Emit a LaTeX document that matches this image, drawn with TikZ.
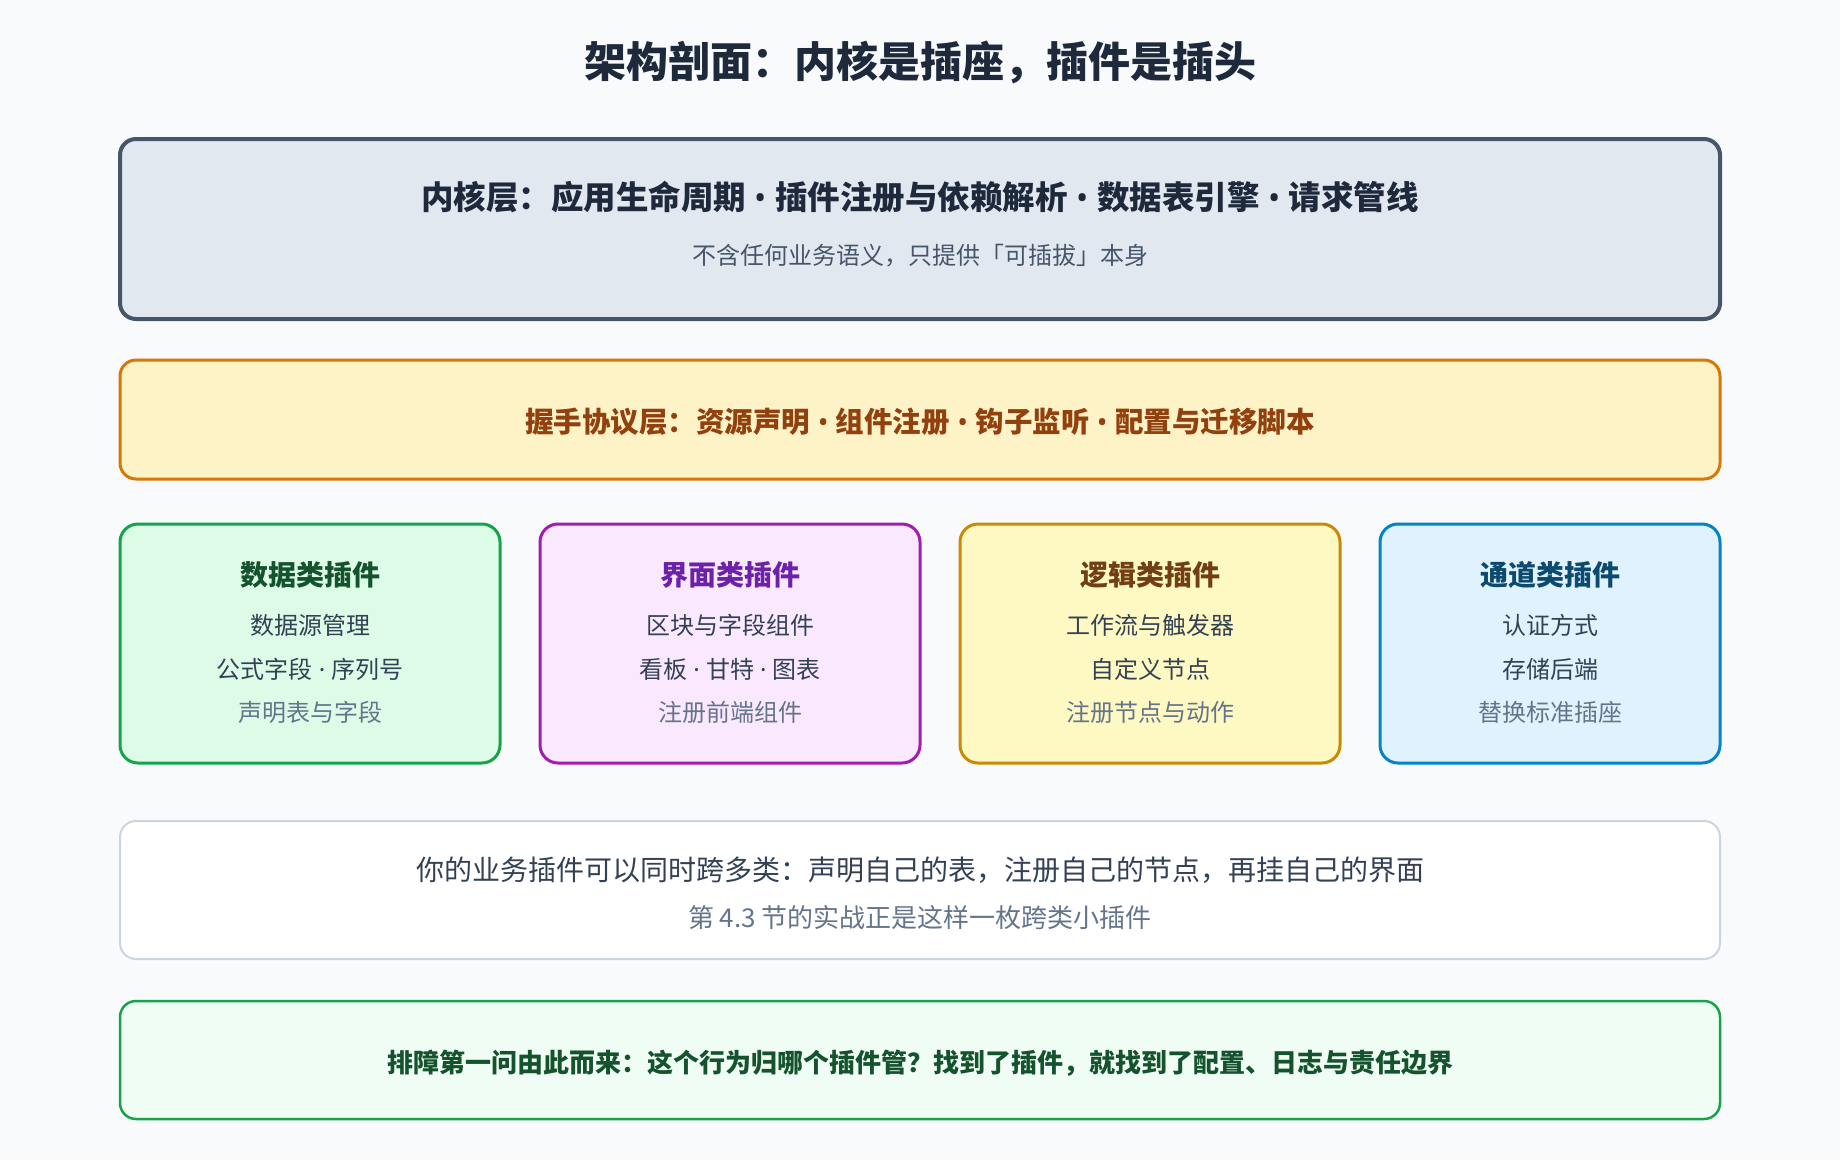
\documentclass[tikz,border=0pt]{standalone}
\usepackage{fontspec}
\setmainfont{Noto Sans CJK SC}
\newfontfamily\latinf{Noto Sans}
\usetikzlibrary{positioning}

% narrow separators as set by a Latin font
\newcommand\bul{{\latinf{} • }}
\newcommand\mdt{{\latinf{} · }}

\definecolor{bgc}{HTML}{F8FAFC}
\definecolor{ink}{HTML}{1E293B}
\definecolor{body}{HTML}{334155}
\definecolor{hint}{HTML}{64748B}
\definecolor{coreF}{HTML}{E2E8F0}
\definecolor{coreD}{HTML}{475569}
\definecolor{protoF}{HTML}{FEF3C7}
\definecolor{protoD}{HTML}{D97706}
\definecolor{protoT}{HTML}{92400E}
\definecolor{dataF}{HTML}{DCFCE7}
\definecolor{dataD}{HTML}{16A34A}
\definecolor{dataT}{HTML}{14532D}
\definecolor{uiF}{HTML}{FAE8FF}
\definecolor{uiD}{HTML}{A21CAF}
\definecolor{uiT}{HTML}{6B21A8}
\definecolor{logicF}{HTML}{FEF9C3}
\definecolor{logicD}{HTML}{CA8A04}
\definecolor{logicT}{HTML}{713F12}
\definecolor{chanF}{HTML}{E0F2FE}
\definecolor{chanD}{HTML}{0284C7}
\definecolor{chanT}{HTML}{0C4A6E}
\definecolor{noteD}{HTML}{CBD5E1}
\definecolor{tipF}{HTML}{F0FDF4}

\begin{document}
\begin{tikzpicture}[x=1pt, y=-1pt,
	layer/.style={draw, rounded corners=16pt, minimum width=1600pt, inner sep=0pt},
	plug/.style={draw, line width=3pt, rounded corners=18pt, minimum height=239pt, inner sep=0pt},
	head/.style={font=\bfseries\fontsize{32.5}{36}\selectfont},
	sub/.style={font=\fontsize{24}{28}\selectfont, text=coreD},
	ptitle/.style={font=\bfseries\fontsize{28}{32}\selectfont},
	pline/.style={font=\fontsize{24}{28}\selectfont, text=body},
	phint/.style={font=\fontsize{24}{28}\selectfont, text=hint}]
	\useasboundingbox[fill=bgc] (0,0) rectangle (1840,1160);
	\node[font=\bfseries\fontsize{42}{48}\selectfont, text=ink] (title) at (920,62) {架构剖面：内核是插座，插件是插头};

	% kernel and protocol layers
	\node[layer, line width=4pt, fill=coreF, draw=coreD, minimum height=180pt] (core) at (920,229) {};
	\node[head, text=ink] (coreT) at (920,197) {内核层：应用生命周期\bul 插件注册与依赖解析\bul 数据表引擎\bul 请求管线};
	\node[sub] (coreS) at (920,256) {不含任何业务语义，只提供「可插拔」本身};
	\node[layer, line width=3pt, fill=protoF, draw=protoD, minimum height=119pt] (proto) at (920,419.5) {};
	\node[head, font=\bfseries\fontsize{28.5}{32}\selectfont, text=protoT] (protoT) at (920,422) {握手协议层：资源声明\bul 组件注册\bul 钩子监听\bul 配置与迁移脚本};

	% four plugin kinds
	\node[plug, fill=dataF, draw=dataD, minimum width=380pt] (data) at (310,643.5) {};
	\node[ptitle, text=dataT] (dataT) at (310,575) {数据类插件};
	\node[pline] (data1) at (310,625) {数据源管理};
	\node[pline] (data2) at (310,669) {公式字段\mdt 序列号};
	\node[phint] (data3) at (310,712) {声明表与字段};

	\node[plug, fill=uiF, draw=uiD, minimum width=380pt] (ui) at (730,643.5) {};
	\node[ptitle, text=uiT] (uiT) at (730,575) {界面类插件};
	\node[pline] (ui1) at (730,625) {区块与字段组件};
	\node[pline] (ui2) at (730,669) {看板\mdt 甘特\mdt 图表};
	\node[phint] (ui3) at (730,712) {注册前端组件};

	\node[plug, fill=logicF, draw=logicD, minimum width=380pt] (logic) at (1150,643.5) {};
	\node[ptitle, text=logicT] (logicT) at (1150,575) {逻辑类插件};
	\node[pline] (logic1) at (1150,625) {工作流与触发器};
	\node[pline] (logic2) at (1150,669) {自定义节点};
	\node[phint] (logic3) at (1150,712) {注册节点与动作};

	\node[plug, fill=chanF, draw=chanD, minimum width=340pt] (chan) at (1550,643.5) {};
	\node[ptitle, text=chanT] (chanT) at (1550,575) {通道类插件};
	\node[pline] (chan1) at (1550,625) {认证方式};
	\node[pline] (chan2) at (1550,669) {存储后端};
	\node[phint] (chan3) at (1550,712) {替换标准插座};

	% notes at the bottom
	\node[layer, line width=2pt, fill=white, draw=noteD, minimum height=138pt] (note) at (920,890) {};
	\node[pline, font=\fontsize{28}{32}\selectfont] (note1) at (920,870) {你的业务插件可以同时跨多类：声明自己的表，注册自己的节点，再挂自己的界面};
	\node[phint, font=\fontsize{26}{30}\selectfont] (note2) at (920,918) {第 4.3 节的实战正是这样一枚跨类小插件};
	\node[layer, line width=2.5pt, fill=tipF, draw=dataD, minimum height=118pt] (tip) at (920,1060) {};
	\node[head, font=\bfseries\fontsize{26}{30}\selectfont, text=dataT] (tipT) at (920,1063) {排障第一问由此而来：这个行为归哪个插件管？找到了插件，就找到了配置、日志与责任边界};
\end{tikzpicture}
\end{document}
